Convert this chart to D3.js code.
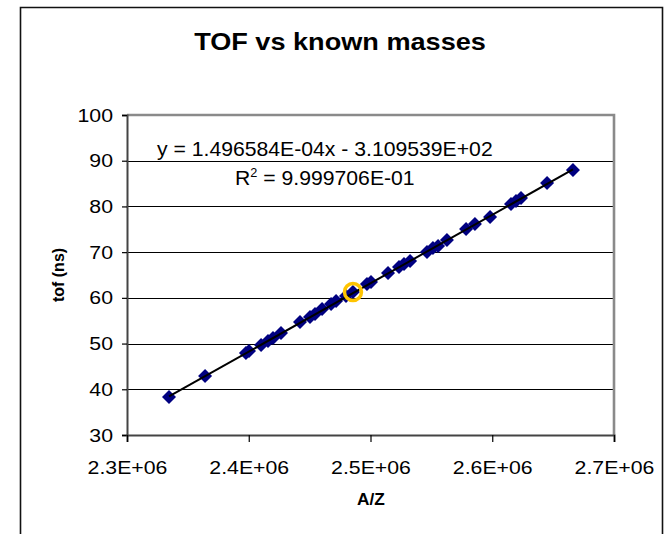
<!DOCTYPE html>
<html>
<head>
<meta charset="utf-8">
<script src="https://cdnjs.cloudflare.com/ajax/libs/d3/7.8.5/d3.min.js"></script>
<style>
  html, body { margin: 0; padding: 0; background: #fff; }
  svg { display: block; font-family: Arial, "Liberation Sans", sans-serif; }
</style>
</head>
<body>
<svg id="chart" width="670" height="534"></svg>
<script>
// Mass-to-charge ratio (A/Z) of the calibration ions
const massOverCharge = [
  2334500, 2364100, 2397700, 2400200, 2410100, 2415800, 2419900, 2426500,
  2442100, 2450300, 2454400, 2460200, 2467600, 2471700, 2479900, 2485600,
  2497100, 2500400, 2514400, 2523400, 2527500, 2532500, 2546400, 2551300,
  2555500, 2562800, 2578500, 2585800, 2598200, 2615400, 2619500, 2623600,
  2645000, 2666300
];
// Measured time of flight (ns)
const timeOfFlight = [
  38.31, 42.90, 47.93, 48.37, 49.68, 50.56, 51.21, 52.31,
  54.71, 55.81, 56.46, 57.56, 58.65, 59.31, 60.40, 61.28,
  63.03, 63.47, 65.43, 66.75, 67.40, 68.06, 70.03, 70.90,
  71.34, 72.65, 75.06, 76.15, 77.69, 80.53, 81.19, 81.84,
  85.12, 87.97
];
// Index of the ion marked with a ring
const highlightIndex = 15;

// Linear fit shown in the chart
const fitSlope = 1.496584e-4;
const fitIntercept = -3.109539e2;
const fitLabel = "y = 1.496584E-04x - 3.109539E+02";
const r2Label = "9.999706E-01";

const xTicks = [2300000, 2400000, 2500000, 2600000, 2700000];
const xTickLabels = ["2.3E+06", "2.4E+06", "2.5E+06", "2.6E+06", "2.7E+06"];
const yTicks = [30, 40, 50, 60, 70, 80, 90, 100];

const svg = d3.select("#chart");
const plot = { left: 127, right: 614, top: 115, bottom: 435 };

const x = d3.scaleLinear().domain([2300000, 2700000]).range([plot.left, plot.right]);
const y = d3.scaleLinear().domain([30, 100]).range([plot.bottom, plot.top]);

// Text with a slightly widened glyph shape
function wideText(px, py, str, size, opts = {}) {
  return svg.append("text")
    .attr("transform", `translate(${px},${py}) scale(${opts.sx || 1},1)`)
    .attr("text-anchor", opts.anchor || "start")
    .attr("font-size", size)
    .attr("font-weight", opts.bold ? "bold" : "normal")
    .text(str);
}

// Outer chart frame (continues below the visible area)
svg.append("path")
  .attr("d", "M20.5,540 V7.5 H662.5 V540")
  .attr("fill", "none").attr("stroke", "#111").attr("stroke-width", 1.6);

// Title
wideText(340, 50, "TOF vs known masses", 24, { bold: true, anchor: "middle", sx: 1.13 });

// Horizontal gridlines
svg.append("g").selectAll("line")
  .data(yTicks.filter(t => t !== 30 && t !== 100))
  .join("line")
  .attr("x1", plot.left).attr("x2", plot.right)
  .attr("y1", d => Math.round(y(d)) + 0.5).attr("y2", d => Math.round(y(d)) + 0.5)
  .attr("stroke", "#000").attr("stroke-width", 1.2);

// Plot area border (top and right)
svg.append("path")
  .attr("d", `M${plot.left},${plot.top} H${plot.right} V${plot.bottom}`)
  .attr("fill", "none").attr("stroke", "#8a8a8a").attr("stroke-width", 2.6);

const tickSx = 1.12;

// Y axis
const yAxis = svg.append("g")
  .attr("transform", `translate(${plot.left},0)`)
  .call(d3.axisLeft(y).tickValues(yTicks).tickSize(5).tickPadding(10));
yAxis.select(".domain").attr("stroke", "#444").attr("stroke-width", 2);
yAxis.selectAll(".tick line").attr("stroke", "#000").attr("stroke-width", 1.2);
yAxis.selectAll(".tick text")
  .attr("x", -14 / tickSx)
  .attr("transform", `scale(${tickSx},1)`)
  .attr("font-size", 19).attr("font-family", "Arial, 'Liberation Sans', sans-serif")
  .attr("fill", "#000");

// X axis
const xAxis = svg.append("g")
  .attr("transform", `translate(0,${plot.bottom})`)
  .call(d3.axisBottom(x).tickValues(xTicks).tickFormat((d, i) => xTickLabels[i])
    .tickSize(7).tickPadding(19));
xAxis.select(".domain").attr("stroke", "#444").attr("stroke-width", 2);
xAxis.selectAll(".tick line").attr("stroke", "#000").attr("stroke-width", 1.2);
xAxis.selectAll(".tick text")
  .attr("transform", `scale(${tickSx},1)`)
  .attr("font-size", 19).attr("font-family", "Arial, 'Liberation Sans', sans-serif")
  .attr("fill", "#000");

// Axis titles
wideText(371, 505, "A/Z", 16, { bold: true, anchor: "middle", sx: 1.08 });
svg.append("text")
  .attr("transform", `translate(64,${(plot.top + plot.bottom) / 2}) rotate(-90)`)
  .attr("text-anchor", "middle")
  .attr("font-size", 16).attr("font-weight", "bold")
  .text("tof (ns)");

// Data markers (diamonds)
const diamond = d3.symbol().type(d3.symbolDiamond2).size(125);
svg.append("g").selectAll("path")
  .data(massOverCharge.map((m, i) => [m, timeOfFlight[i]]))
  .join("path")
  .attr("d", diamond)
  .attr("transform", d => `translate(${x(d[0])},${y(d[1])})`)
  .attr("fill", "#000080");

// Linear fit across the data range
const xMin = d3.min(massOverCharge), xMax = d3.max(massOverCharge);
svg.append("line")
  .attr("x1", x(xMin)).attr("y1", y(fitSlope * xMin + fitIntercept))
  .attr("x2", x(xMax)).attr("y2", y(fitSlope * xMax + fitIntercept))
  .attr("stroke", "#000").attr("stroke-width", 2);

// Highlighted ion
svg.append("circle")
  .attr("cx", x(massOverCharge[highlightIndex]))
  .attr("cy", y(timeOfFlight[highlightIndex]))
  .attr("r", 8.5)
  .attr("fill", "none").attr("stroke", "#FFC400").attr("stroke-width", 3.5);

// Fit equation and coefficient of determination
wideText(157, 156, fitLabel, 20, { sx: 1.06 });
const r2 = wideText(235, 185, "", 20, { sx: 1.06 });
r2.append("tspan").text("R");
r2.append("tspan").attr("font-size", 12).attr("dy", -8).text("2");
r2.append("tspan").attr("dy", 8).text(" = " + r2Label);
</script>
</body>
</html>
